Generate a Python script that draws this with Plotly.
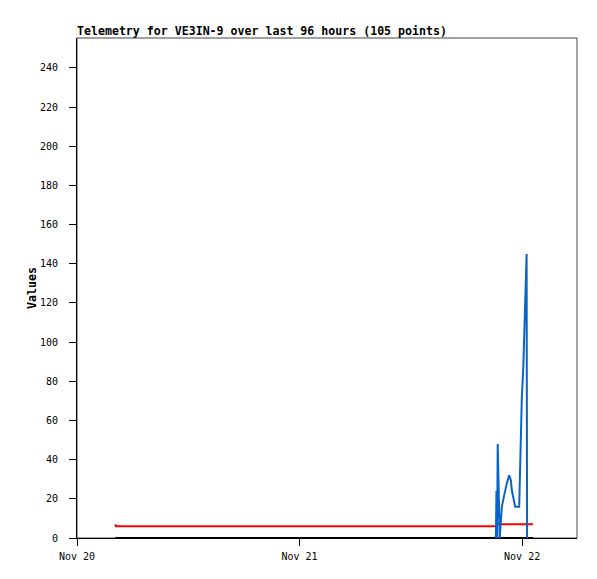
"""Telemetry chart for VE3IN-9 — recreated with Plotly."""
import plotly.graph_objects as go

# Red / black channels share the same timestamps
base_times = [
    "2023-11-20 04:08", "2023-11-20 04:12", "2023-11-20 12:00",
    "2023-11-21 00:00", "2023-11-21 12:00", "2023-11-21 21:17",
    "2023-11-21 21:19", "2023-11-22 00:00", "2023-11-22 01:11",
]
red_values = [7, 6, 6, 6, 6, 6, 7, 7, 7]
black_values = [0, 0, 0, 0, 0, 0, 0, 0, 0]

# Blue channel only reports over the last few hours
blue_times = [
    "2023-11-21 21:10", "2023-11-21 21:14", "2023-11-21 21:18",
    "2023-11-21 21:22", "2023-11-21 21:35", "2023-11-21 21:42",
    "2023-11-21 21:49", "2023-11-21 21:59", "2023-11-21 22:10",
    "2023-11-21 22:21", "2023-11-21 22:36", "2023-11-21 22:47",
    "2023-11-21 22:53", "2023-11-21 23:06", "2023-11-21 23:15",
    "2023-11-21 23:41", "2023-11-21 23:44", "2023-11-21 23:49",
    "2023-11-21 23:51", "2023-11-21 23:58", "2023-11-22 00:08",
    "2023-11-22 00:13", "2023-11-22 00:20", "2023-11-22 00:24",
    "2023-11-22 00:29", "2023-11-22 00:32",
]
blue_values = [
    0, 24, 0, 48, 0, 9, 16, 20, 24.5, 28, 32, 29.5, 24.5, 19.5, 16,
    16, 26, 40, 55, 71.5, 88, 104, 120, 136, 145, 0,
]

tick_vals = ["2023-11-20", "2023-11-21", "2023-11-22"]
tick_text = ["Nov 20", "Nov 21", "Nov 22"]

MONO = "DejaVu Sans Mono"
# page body has an 8px margin, so the figure is a bit smaller than the window
W, H = 589, 571

fig = go.Figure()
fig.add_trace(go.Scatter(
    x=base_times, y=black_values, mode="lines",
    line=dict(color="#000000", width=2), showlegend=False,
))
fig.add_trace(go.Scatter(
    x=base_times, y=red_values, mode="lines",
    line=dict(color="#ff0000", width=2), showlegend=False,
))
fig.add_trace(go.Scatter(
    x=blue_times, y=blue_values, mode="lines",
    line=dict(color="#0a64c8", width=2), showlegend=False,
))

# plot frame (top / right in grey)
fig.add_shape(type="rect", xref="paper", yref="paper",
              x0=0, y0=0, x1=1, y1=1,
              line=dict(color="#444444", width=1), layer="below")

fig.update_layout(
    width=W, height=H,
    margin=dict(l=69, r=20, t=30, b=41),
    paper_bgcolor="white", plot_bgcolor="white",
    font=dict(family=MONO, size=10, color="#000000"),
    title=dict(
        text="<b>Telemetry for VE3IN-9 over last 96 hours (105 points)</b>",
        font=dict(family=MONO, size=11.6, color="#000000"),
        x=69 / W, xanchor="left", xref="container",
        y=1 - 27 / H, yanchor="bottom", yref="container",
    ),
    xaxis=dict(
        type="date",
        range=["2023-11-20 00:00", "2023-11-22 05:55"],
        tickvals=tick_vals, ticktext=tick_text,
        ticks="outside", ticklen=7, tickcolor="#000000",
        ticklabelstandoff=2,
        showline=True, linecolor="#000000", linewidth=1,
        showgrid=False, zeroline=False,
        tickfont=dict(family=MONO, size=10),
    ),
    yaxis=dict(
        range=[0, 255.3],
        tickvals=list(range(0, 241, 20)),
        ticks="outside", ticklen=7, tickcolor="#000000",
        ticklabelstandoff=9,
        showline=True, linecolor="#000000", linewidth=1,
        showgrid=False, zeroline=False,
        tickfont=dict(family=MONO, size=10),
        title=dict(text="<b>Values</b>",
                   font=dict(family=MONO, size=11.6), standoff=0),
    ),
)

fig.write_html("out.html")
